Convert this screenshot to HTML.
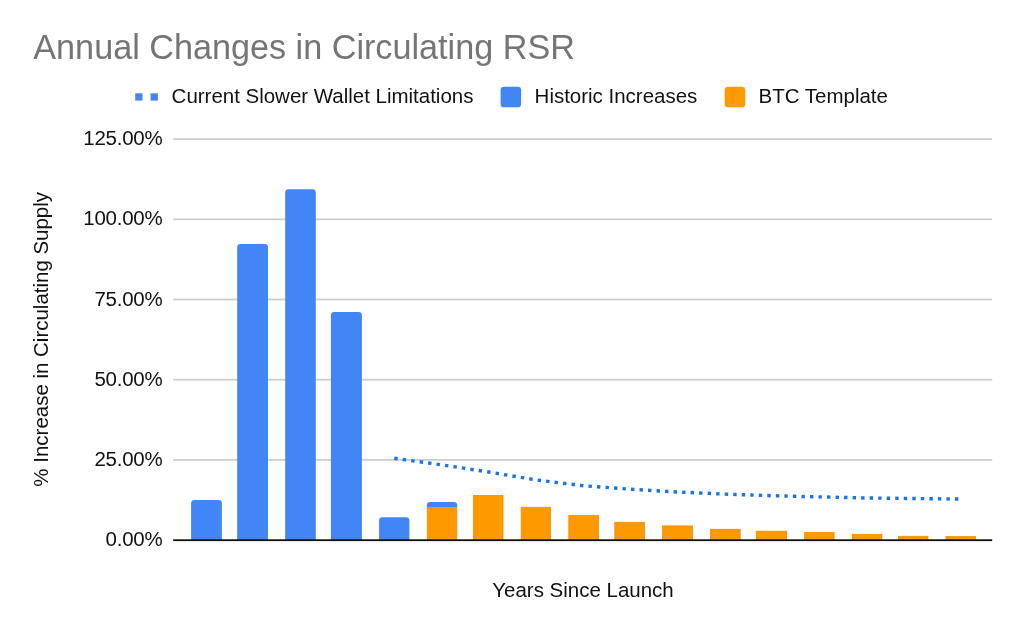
<!DOCTYPE html>
<html><head><meta charset="utf-8"><title>Annual Changes in Circulating RSR</title>
<style>html,body{margin:0;padding:0;background:#fff;}svg{display:block;filter:blur(0.35px);}text{font-family:"Liberation Sans",sans-serif;}</style></head><body>
<svg width="1024" height="633" viewBox="0 0 1024 633">
<rect x="0" y="0" width="1024" height="633" fill="#ffffff"/>
<text x="33.3" y="58.5" font-size="34.2" fill="#757575">Annual Changes in Circulating RSR</text>
<rect x="135.2" y="93.3" width="7.3" height="7.3" fill="#4285f4"/>
<rect x="150.6" y="93.3" width="7.3" height="7.3" fill="#4285f4"/>
<text x="171.6" y="103" font-size="20.48" fill="#111111">Current Slower Wallet Limitations</text>
<rect x="500.6" y="86.8" width="20.5" height="20.5" rx="3.4" fill="#4285f4"/>
<text x="534.6" y="103" font-size="20.48" fill="#111111">Historic Increases</text>
<rect x="724.7" y="86.8" width="20.5" height="20.5" rx="3.4" fill="#ff9900"/>
<text x="758.6" y="103" font-size="20.48" fill="#111111">BTC Template</text>
<rect x="173.2" y="138.25" width="819" height="1.7" fill="#cccccc"/>
<rect x="173.2" y="218.45" width="819" height="1.7" fill="#cccccc"/>
<rect x="173.2" y="298.65" width="819" height="1.7" fill="#cccccc"/>
<rect x="173.2" y="378.85" width="819" height="1.7" fill="#cccccc"/>
<rect x="173.2" y="459.05" width="819" height="1.7" fill="#cccccc"/>
<text x="162.5" y="145.10" font-size="20.48" fill="#111111" text-anchor="end" letter-spacing="-0.22">125.00%</text>
<text x="162.5" y="225.30" font-size="20.48" fill="#111111" text-anchor="end" letter-spacing="-0.22">100.00%</text>
<text x="162.5" y="305.50" font-size="20.48" fill="#111111" text-anchor="end" letter-spacing="-0.22">75.00%</text>
<text x="162.5" y="385.70" font-size="20.48" fill="#111111" text-anchor="end" letter-spacing="-0.22">50.00%</text>
<text x="162.5" y="465.90" font-size="20.48" fill="#111111" text-anchor="end" letter-spacing="-0.22">25.00%</text>
<text x="162.5" y="546.20" font-size="20.48" fill="#111111" text-anchor="end" letter-spacing="-0.22">0.00%</text>
<path d="M191.10 540.20 L191.10 503.40 Q191.10 500.00 194.50 500.00 L218.50 500.00 Q221.90 500.00 221.90 503.40 L221.90 540.20 Z" fill="#4285f4"/>
<path d="M237.20 540.20 L237.20 247.50 Q237.20 244.10 240.60 244.10 L264.60 244.10 Q268.00 244.10 268.00 247.50 L268.00 540.20 Z" fill="#4285f4"/>
<path d="M285.20 540.20 L285.20 192.60 Q285.20 189.20 288.60 189.20 L312.40 189.20 Q315.80 189.20 315.80 192.60 L315.80 540.20 Z" fill="#4285f4"/>
<path d="M330.90 540.20 L330.90 315.50 Q330.90 312.10 334.30 312.10 L358.50 312.10 Q361.90 312.10 361.90 315.50 L361.90 540.20 Z" fill="#4285f4"/>
<path d="M379.10 540.20 L379.10 520.60 Q379.10 517.20 382.50 517.20 L406.00 517.20 Q409.40 517.20 409.40 520.60 L409.40 540.20 Z" fill="#4285f4"/>
<rect x="427.30" y="507.30" width="29.50" height="32.90" fill="#ff9900" stroke="#f58b00" stroke-width="0.8"/>
<path d="M426.90 506.90 L426.90 505.30 Q426.90 501.90 430.30 501.90 L453.80 501.90 Q457.20 501.90 457.20 505.30 L457.20 506.90 Z" fill="#4285f4"/>
<rect x="473.50" y="495.40" width="29.50" height="44.80" fill="#ff9900" stroke="#f58b00" stroke-width="0.8"/>
<rect x="521.20" y="507.30" width="29.30" height="32.90" fill="#ff9900" stroke="#f58b00" stroke-width="0.8"/>
<rect x="568.80" y="515.60" width="29.70" height="24.60" fill="#ff9900" stroke="#f58b00" stroke-width="0.8"/>
<rect x="614.80" y="522.30" width="29.60" height="17.90" fill="#ff9900" stroke="#f58b00" stroke-width="0.8"/>
<rect x="662.60" y="525.90" width="29.80" height="14.30" fill="#ff9900" stroke="#f58b00" stroke-width="0.8"/>
<rect x="710.40" y="529.30" width="29.80" height="10.90" fill="#ff9900" stroke="#f58b00" stroke-width="0.8"/>
<rect x="756.30" y="531.20" width="30.20" height="9.00" fill="#ff9900" stroke="#f58b00" stroke-width="0.8"/>
<rect x="804.50" y="532.60" width="29.60" height="7.60" fill="#ff9900" stroke="#f58b00" stroke-width="0.8"/>
<rect x="852.30" y="534.30" width="29.50" height="5.90" fill="#ff9900" stroke="#f58b00" stroke-width="0.8"/>
<rect x="898.30" y="536.30" width="29.70" height="3.90" fill="#ff9900" stroke="#f58b00" stroke-width="0.8"/>
<rect x="946.00" y="536.60" width="29.60" height="3.60" fill="#ff9900" stroke="#f58b00" stroke-width="0.8"/>
<rect x="173.2" y="539.30" width="819" height="1.8" fill="#111111"/>
<polyline points="394.3,458.3 441.6,464.8 488.6,472.0 536.0,479.9 583.6,485.8 629.7,489.2 677.5,492.0 725.3,494.1 771.4,495.7 819.3,496.9 867.0,498.0 913.2,498.5 960.8,499.1" fill="none" stroke="#1a73e8" stroke-width="3.41" stroke-dasharray="3.41 5.12"/>
<text x="583" y="597" font-size="20.48" fill="#111111" text-anchor="middle">Years Since Launch</text>
<text transform="translate(48.1,339.3) rotate(-90)" font-size="20.48" fill="#111111" text-anchor="middle">% Increase in Circulating Supply</text>
</svg></body></html>
